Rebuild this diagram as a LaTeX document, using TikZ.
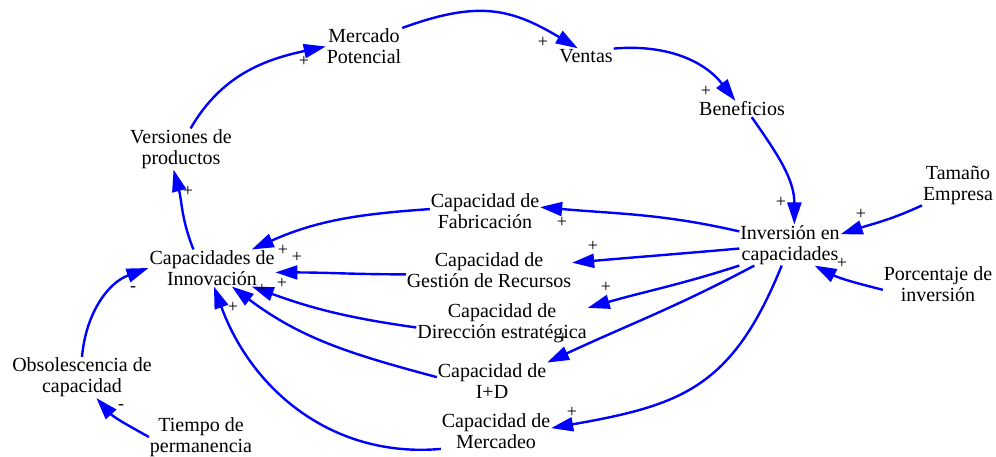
\documentclass[tikz,border=0pt]{standalone}
\usepackage{fontspec}
\setmainfont{Liberation Serif}
\usetikzlibrary{arrows.meta}
\definecolor{linkblue}{RGB}{0,0,255}
\tikzset{
  var/.style={align=center, inner sep=1pt, outer sep=0pt,
    font=\fontsize{20}{21}\selectfont},
  sign/.style={inner sep=0pt, font=\fontsize{18}{18}\selectfont},
  link/.style={draw=linkblue, line width=2.4pt,
    -{Triangle[length=22pt,width=14pt]}, fill=none},
}
\begin{document}
\begin{tikzpicture}[x=1pt,y=1pt]
\useasboundingbox (0,0) rectangle (996,-457);

% variables
\node[var] (merc)   at (364,-46.5) {Mercado\\Potencial};
\node[var] (ventas) at (586,-56)   {Ventas};
\node[var] (benef)  at (742,-109)  {Beneficios};
\node[var] (vers)   at (181,-149)  {Versiones de\\productos};
\node[var] (innov)  at (212,-268)  {Capacidades de\\Innovación};
\node[var] (fab)    at (485,-211)  {Capacidad de\\Fabricación};
\node[var] (gest)   at (489,-270)  {Capacidad de\\Gestión de Recursos};
\node[var] (dir)    at (502,-323)  {Capacidad de\\Dirección estratégica};
\node[var] (id)     at (492,-381)  {Capacidad de\\I+D};
\node[var] (merd)   at (496,-431)  {Capacidad de\\Mercadeo};
\node[var] (inv)    at (790,-245)  {Inversión en\\capacidades};
\node[var] (tam)    at (958,-185)  {Tamaño\\Empresa};
\node[var] (porc)   at (938,-284)  {Porcentaje de\\inversión};
\node[var] (obs)    at (82,-377.5) {Obsolescencia de\\capacidad};
\node[var] (tiempo) at (201,-437)  {Tiempo de\\permanencia};

% causal links
\draw[link] (vers.65) to[out=60,in=192] (merc.west);
\draw[link] (merc.north east) to[out=20,in=149,looseness=1.15] (ventas.137);
\draw[link] (ventas.15) to[out=5,in=128] (benef.129);
\draw[link] (benef.-40) to[out=-55,in=90] (inv.78);
\draw[link] (tam.south west) to[out=205,in=18] (inv.12);
\draw[link] (porc.186) to[out=166,in=-27] (inv.-40);
\draw[link] (inv.165) to[out=167,in=-5] (fab.4);
\draw[link] (inv.184) to[out=185,in=5] (gest.5);
\draw[link] (inv.south west) to[out=198,in=16] (dir.10);
\draw[link] (inv.210) to[out=208,in=25] (id.north east);
\draw[link] (inv.248) to[out=248,in=10,looseness=1.2] (merd.3);
\draw[link] (fab.178) to[out=184,in=24] (innov.25);
\draw[link] (gest.183) to[out=180,in=0] (innov.-4);
\draw[link] (dir.183) to[out=172,in=-20] (innov.-25);
\draw[link] (id.176) to[out=165,in=-37] (innov.-43);
\draw[link] (merd.198) to[out=185,in=-70] (innov.-84);
\draw[link] (innov.135) to[out=112,in=-75] (vers.-110);
\draw[link] (obs.north) to[out=85,in=200] (innov.west);
\draw[link] (tiempo.west) to[out=151,in=-48] (obs.-55);

% link polarities
\node[sign] (p1)  at (304,-61)  {+};
\node[sign] (p2)  at (543,-42)  {+};
\node[sign] (p3)  at (706,-91)  {+};
\node[sign] (p4)  at (781,-202) {+};
\node[sign] (p5)  at (861,-214) {+};
\node[sign] (p6)  at (842,-263) {+};
\node[sign] (p7)  at (562,-222) {+};
\node[sign] (p8)  at (593,-246) {+};
\node[sign] (p9)  at (606,-287) {+};
\node[sign] (p10) at (563,-338) {+};
\node[sign] (p11) at (572,-412) {+};
\node[sign] (p12) at (283,-250) {+};
\node[sign] (p13) at (297,-257) {+};
\node[sign] (p14) at (282,-283) {+};
\node[sign] (p15) at (262,-289) {+};
\node[sign] (p16) at (233,-307) {+};
\node[sign] (p17) at (188,-191) {+};
\node[sign] (m1)  at (133,-289) {-};
\node[sign] (m2)  at (121,-407) {-};
\end{tikzpicture}
\end{document}
